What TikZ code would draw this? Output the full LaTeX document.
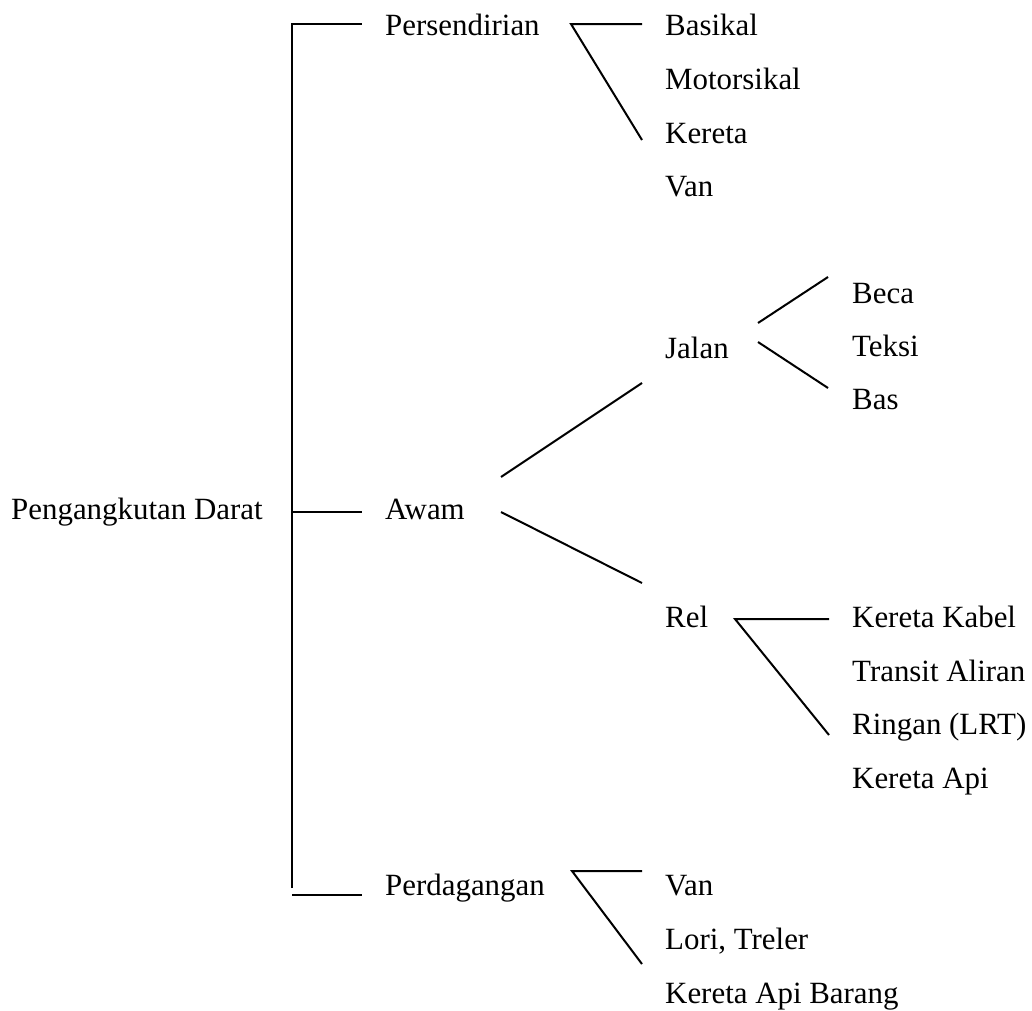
\documentclass[tikz,border=0pt]{standalone}
\usepackage{fontspec}
\setmainfont{Liberation Serif}
\begin{document}
\begin{tikzpicture}[x=1pt,y=-1pt,
  lbl/.style={anchor=base west,inner sep=0pt,font=\fontsize{30.9}{36}\selectfont},
  conn/.style={line width=2pt}]
\useasboundingbox (0,0) rectangle (1032,1010);
% labels
\node[lbl] (root) at (11,519) {Pengangkutan Darat};
\node[lbl] (pers) at (385,35) {Persendirian};
\node[lbl] (awam) at (385,519) {Awam};
\node[lbl] (perd) at (385,895) {Perdagangan};
\node[lbl] (bas1) at (665,35) {Basikal};
\node[lbl] (mot) at (665,89) {Motorsikal};
\node[lbl] (ker) at (665,143) {Kereta};
\node[lbl] (van1) at (665,196) {Van};
\node[lbl] (jalan) at (665,358) {Jalan};
\node[lbl] (rel) at (665,627) {Rel};
\node[lbl] (beca) at (852,303) {Beca};
\node[lbl] (teksi) at (852,356) {Teksi};
\node[lbl] (bas) at (852,409) {Bas};
\node[lbl] (kk) at (852,627) {Kereta Kabel};
\node[lbl] (ta) at (852,681) {Transit Aliran};
\node[lbl] (lrt) at (852,734) {Ringan (LRT)};
\node[lbl] (ka) at (852,788) {Kereta Api};
\node[lbl] (van2) at (665,895) {Van};
\node[lbl] (lori) at (665,949) {Lori, Treler};
\node[lbl] (kab) at (665,1003) {Kereta Api Barang};
% connector coordinates
\coordinate (rT) at (292,24);
\coordinate (rB) at (292,888);
\coordinate (rM) at (292,512);
\coordinate (rBB) at (292,895);
\coordinate (pT) at (362,24);
\coordinate (aT) at (362,512);
\coordinate (dT) at (362,895);
\coordinate (ps) at (571,24);
\coordinate (pe1) at (642,24);
\coordinate (pe2) at (642,140);
\coordinate (as1) at (501,477);
\coordinate (ae1) at (642,383);
\coordinate (as2) at (501,512);
\coordinate (ae2) at (642,583);
\coordinate (js1) at (758,323);
\coordinate (je1) at (828,277);
\coordinate (js2) at (758,342);
\coordinate (je2) at (828,388);
\coordinate (rs) at (735,619);
\coordinate (re1) at (829,619);
\coordinate (re2) at (829,735);
\coordinate (ds) at (572,871);
\coordinate (de1) at (642,871);
\coordinate (de2) at (642,964);
% connectors
\draw[conn] (rB) -- (rT) -- (pT);
\draw[conn] (rM) -- (aT);
\draw[conn] (rBB) -- (dT);
\draw[conn] (pe1) -- (ps) -- (pe2);
\draw[conn] (as1) -- (ae1);
\draw[conn] (as2) -- (ae2);
\draw[conn] (js1) -- (je1);
\draw[conn] (js2) -- (je2);
\draw[conn] (re1) -- (rs) -- (re2);
\draw[conn] (de1) -- (ds) -- (de2);
\end{tikzpicture}
\end{document}
